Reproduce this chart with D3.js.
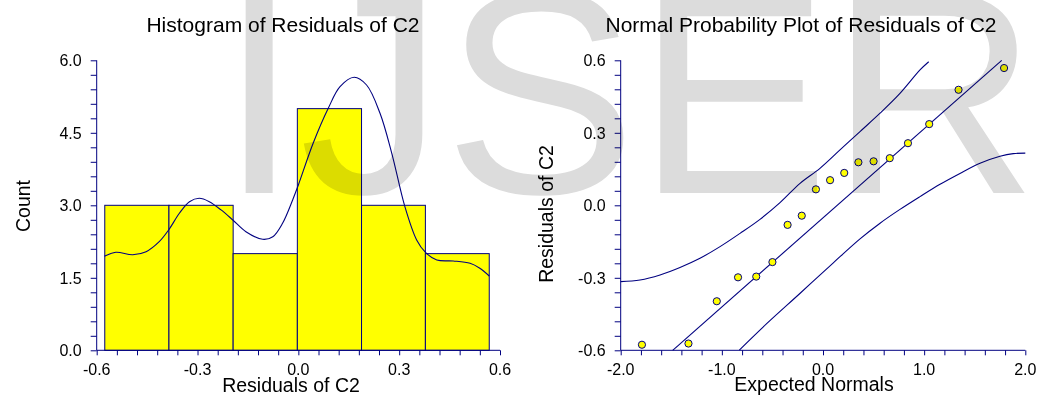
<!DOCTYPE html>
<html>
<head>
<meta charset="utf-8">
<script src="https://cdn.jsdelivr.net/npm/d3@7"></script>
<style>
  html, body { margin: 0; padding: 0; background: #fff; }
  svg { display: block; font-family: "Liberation Sans", Arial, sans-serif; }
  .watermark { mix-blend-mode: multiply; }
</style>
</head>
<body>
<div id="chart"></div>
<script>
// histogram
const binEdges = [-0.576, -0.385, -0.194, -0.003, 0.188, 0.378, 0.568];
const binCounts = [3, 3, 2, 5, 3, 2];
const densityX = [-0.577, -0.543, -0.493, -0.453, -0.414, -0.386, -0.354, -0.324, -0.295, -0.265, -0.230, -0.195, -0.156, -0.106, -0.076, -0.047, -0.017, 0.000, 0.044, 0.089, 0.124, 0.166, 0.203, 0.243, 0.278, 0.317, 0.352, 0.379, 0.412, 0.461, 0.511, 0.540, 0.568];
const densityY = [1.945, 2.028, 1.978, 2.040, 2.247, 2.489, 2.835, 3.075, 3.145, 3.075, 2.904, 2.696, 2.454, 2.297, 2.350, 2.628, 3.110, 3.420, 4.283, 5.007, 5.454, 5.649, 5.489, 4.904, 4.076, 2.971, 2.282, 2.019, 1.868, 1.848, 1.800, 1.697, 1.537];
const histXTicks = [-0.6, -0.3, 0.0, 0.3, 0.6];
const histYTicks = [0.0, 1.5, 3.0, 4.5, 6.0];

// normal probability plot
const expectedNormals = [-1.79, -1.33, -1.05, -0.84, -0.66, -0.50, -0.35, -0.21, -0.07, 0.07, 0.21, 0.35, 0.50, 0.66, 0.84, 1.05, 1.34, 1.79];
const residuals = [-0.577, -0.572, -0.397, -0.298, -0.295, -0.235, -0.081, -0.043, 0.066, 0.104, 0.134, 0.178, 0.182, 0.195, 0.257, 0.336, 0.478, 0.568];
const fitX = [-1.486, 1.767];
const fitY = [-0.6, 0.6];
const upperX = [-2.0, -1.809, -1.611, -1.414, -1.216, -1.018, -0.820, -0.623, -0.425, -0.227, -0.030, 0.168, 0.366, 0.564, 0.761, 0.959, 1.045];
const upperY = [-0.316, -0.309, -0.288, -0.257, -0.219, -0.171, -0.116, -0.058, 0.011, 0.091, 0.153, 0.229, 0.305, 0.381, 0.463, 0.560, 0.594];
const lowerX = [-0.827, -0.557, -0.226, 0.102, 0.366, 0.564, 0.761, 0.959, 1.157, 1.354, 1.552, 1.750, 1.881, 2.0];
const lowerY = [-0.599, -0.490, -0.364, -0.238, -0.139, -0.074, -0.017, 0.036, 0.087, 0.132, 0.174, 0.203, 0.214, 0.216];
const nppXTicks = [-2.0, -1.0, 0.0, 1.0, 2.0];
const nppYTicks = [-0.6, -0.3, 0.0, 0.3, 0.6];

const navy = '#000080';
const width = 1037, height = 396;

const svg = d3.select('#chart').append('svg')
  .attr('width', width)
  .attr('height', height);

// plain hyphen minus, like the original
const fmt = d => d3.format('.1f')(d).replace('\u2212', '-');

function minorTicks(lo, hi, step) {
  const n = Math.round((hi - lo) / step);
  return d3.range(n + 1).map(i => +(lo + i * step).toFixed(4));
}

function drawAxes(g, x, y, xTicks, yTicks, xMinor, yMinor) {
  const xAxis = g.append('g')
    .attr('transform', `translate(0,${y.range()[0]})`)
    .call(d3.axisBottom(x).tickValues(xMinor).tickSize(5).tickFormat(''));
  xAxis.select('.domain').remove();
  xAxis.selectAll('line').attr('stroke', navy);

  const yAxis = g.append('g')
    .attr('transform', `translate(${x.range()[0]},0)`)
    .call(d3.axisLeft(y).tickValues(yMinor).tickSize(6).tickFormat(''));
  yAxis.select('.domain').remove();
  yAxis.selectAll('line').attr('stroke', navy);

  g.append('line')
    .attr('x1', x.range()[0]).attr('x2', x.range()[1])
    .attr('y1', y.range()[0]).attr('y2', y.range()[0])
    .attr('stroke', navy);
  g.append('line')
    .attr('x1', x.range()[0]).attr('x2', x.range()[0])
    .attr('y1', y.range()[0]).attr('y2', y.range()[1])
    .attr('stroke', navy);

  g.append('g').selectAll('text')
    .data(xTicks)
    .join('text')
    .attr('x', d => x(d))
    .attr('y', y.range()[0] + 25)
    .attr('text-anchor', 'middle')
    .attr('font-size', '16px')
    .text(fmt);

  g.append('g').selectAll('text')
    .data(yTicks)
    .join('text')
    .attr('x', x.range()[0] - 15)
    .attr('y', d => y(d) + 6)
    .attr('text-anchor', 'end')
    .attr('font-size', '16px')
    .text(fmt);
}

// Left: histogram
const hx = d3.scaleLinear().domain([-0.6, 0.6]).range([96.7, 500]);
const hy = d3.scaleLinear().domain([0, 6]).range([350.3, 60.3]);
const left = svg.append('g');

left.append('g').selectAll('rect')
  .data(binCounts)
  .join('rect')
  .attr('x', (d, i) => hx(binEdges[i]))
  .attr('y', d => hy(d))
  .attr('width', (d, i) => hx(binEdges[i + 1]) - hx(binEdges[i]))
  .attr('height', d => hy(0) - hy(d))
  .attr('fill', '#ffff00')
  .attr('stroke', navy)
  .attr('stroke-width', 1);

left.append('path')
  .datum(densityX.map((d, i) => [d, densityY[i]]))
  .attr('fill', 'none')
  .attr('stroke', navy)
  .attr('stroke-width', 1.1)
  .attr('d', d3.line().x(d => hx(d[0])).y(d => hy(d[1])).curve(d3.curveCatmullRom.alpha(0.5)));

drawAxes(left, hx, hy, histXTicks, histYTicks, minorTicks(-0.6, 0.6, 0.06), minorTicks(0, 6, 0.3));

left.append('text')
  .attr('x', 283).attr('y', 32)
  .attr('text-anchor', 'middle')
  .attr('font-size', '21px')
  .text('Histogram of Residuals of C2');
left.append('text')
  .attr('x', 291).attr('y', 392)
  .attr('text-anchor', 'middle')
  .attr('font-size', '19.5px')
  .text('Residuals of C2');
left.append('text')
  .attr('transform', 'translate(30,206) rotate(-90)')
  .attr('text-anchor', 'middle')
  .attr('font-size', '19.5px')
  .text('Count');

// Right: normal probability plot
const nx = d3.scaleLinear().domain([-2, 2]).range([620.7, 1025.3]);
const ny = d3.scaleLinear().domain([-0.6, 0.6]).range([350.3, 60.3]);
const right = svg.append('g');
const bandLine = d3.line().x(d => nx(d[0])).y(d => ny(d[1])).curve(d3.curveCatmullRom.alpha(0.5));

[[upperX, upperY], [lowerX, lowerY], [fitX, fitY]].forEach(([xs, ys]) => {
  right.append('path')
    .datum(xs.map((d, i) => [d, ys[i]]))
    .attr('fill', 'none')
    .attr('stroke', navy)
    .attr('stroke-width', 1.1)
    .attr('d', bandLine);
});

right.append('g').selectAll('circle')
  .data(expectedNormals)
  .join('circle')
  .attr('cx', d => nx(d))
  .attr('cy', (d, i) => ny(residuals[i]))
  .attr('r', 3.6)
  .attr('fill', '#ffff00')
  .attr('stroke', navy)
  .attr('stroke-width', 1);

drawAxes(right, nx, ny, nppXTicks, nppYTicks, minorTicks(-2, 2, 0.2), minorTicks(-0.6, 0.6, 0.06));

right.append('text')
  .attr('x', 801).attr('y', 32)
  .attr('text-anchor', 'middle')
  .attr('font-size', '21px')
  .text('Normal Probability Plot of Residuals of C2');
right.append('text')
  .attr('x', 814).attr('y', 391)
  .attr('text-anchor', 'middle')
  .attr('font-size', '19.5px')
  .text('Expected Normals');
right.append('text')
  .attr('transform', 'translate(553,214) rotate(-90)')
  .attr('text-anchor', 'middle')
  .attr('font-size', '19.5px')
  .text('Residuals of C2');

// watermark
svg.append('text')
  .attr('class', 'watermark')
  .attr('x', 219).attr('y', 193)
  .attr('font-size', '289px')
  .attr('fill', '#dcdcdc')
  .text('IJSER');
</script>
</body>
</html>
